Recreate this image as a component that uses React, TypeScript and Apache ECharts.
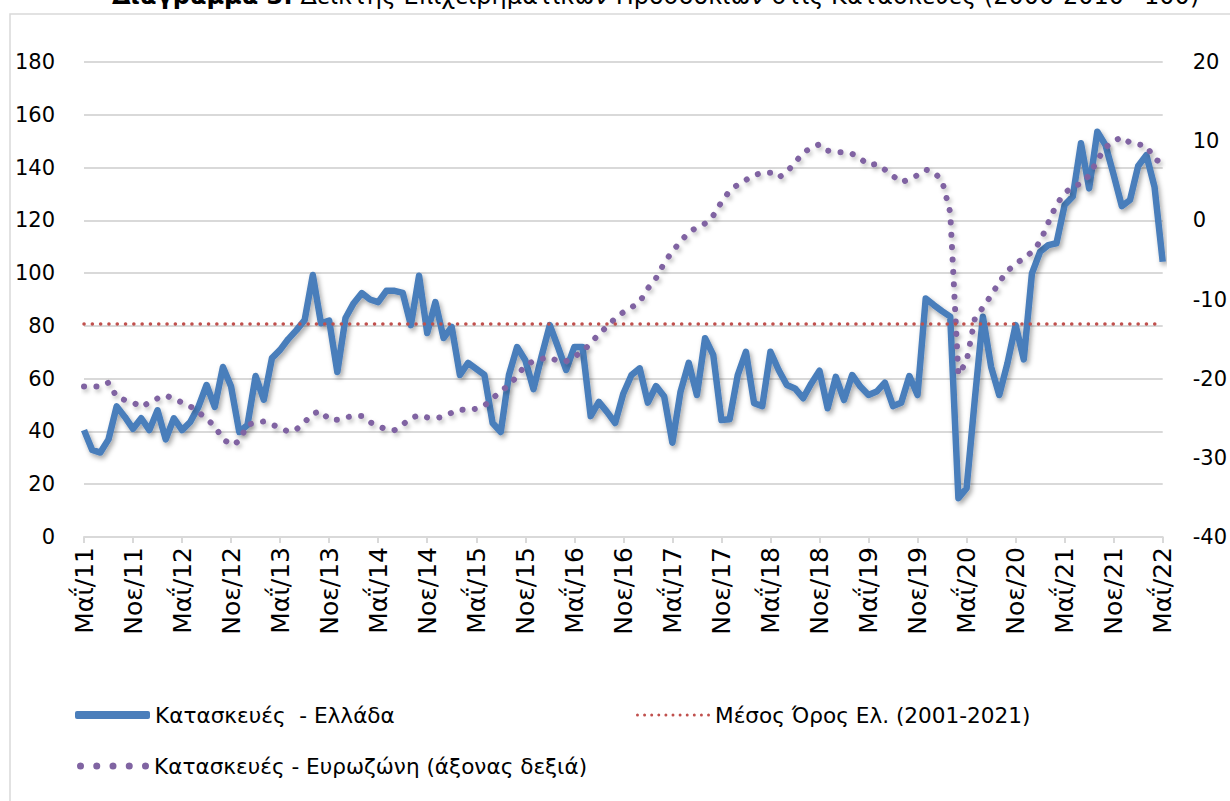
import React, { useEffect, useRef } from 'react';
import * as echarts from 'echarts';

// ---------- data ----------
const MONTHS = ['Ιαν', 'Φεβ', 'Μαρ', 'Απρ', 'Μαΐ', 'Ιουν', 'Ιουλ', 'Αυγ', 'Σεπ', 'Οκτ', 'Νοε', 'Δεκ'];
const START_YEAR = 11; // 2011
const START_MONTH = 4; // May
const N_MONTHS = 133; // May 2011 .. May 2022

const categories: string[] = [];
for (let i = 0; i < N_MONTHS; i++) {
  const m = (START_MONTH + i) % 12;
  const y = START_YEAR + Math.floor((START_MONTH + i) / 12);
  categories.push(`${MONTHS[m]}/${y}`);
}

// Κατασκευές - Ελλάδα (left axis)
const greece = [
  40.5, 33, 32, 37, 49.5, 45.5, 41, 45, 40.5, 48,
  37, 45, 40.5, 43.6, 49.3, 57.6, 49.3, 64.4, 57, 39.8,
  42.4, 61, 52, 67.8, 70.9, 75, 78.4, 82.2, 99.3, 81,
  82, 62.5, 83, 88.6, 92.4, 90, 89, 93.3, 93.3, 92.5,
  80.3, 99, 77.3, 89, 75.4, 79.6, 61.4, 66, 63.7, 61.4,
  43.2, 39.8, 61.4, 72, 67, 56, 68.6, 80.3, 72, 63.3,
  72, 72, 45.8, 51.2, 47.4, 43.2, 54.4, 61.4, 63.9, 50.9,
  57.2, 53.2, 35.7, 55.1, 66, 53.8, 75.3, 69, 44.3, 44.6,
  61.4, 70.2, 50.7, 49.6, 70.2, 63.3, 57.6, 56.3, 52.6, 58.2,
  63, 48.8, 60.7, 51.9, 61.4, 57, 53.8, 55.1, 58.5, 49.6,
  50.9, 61, 53.8, 90.4, 87.9, 85.6, 83.5, 14.7, 18.5, 51.9,
  83.5, 64.5, 53.8, 65.8, 80.3, 67.3, 99.9, 108.1, 110.6, 111.3,
  125.8, 129, 149.2, 132.1, 153.6, 148.5, 137.2, 125.4, 127.7, 140.6,
  144.7, 132.7, 104.3,
];

// Κατασκευές - Ευρωζώνη (right axis)
const eurozone = [
  -21.0, -21.0, -21.0, -20.5, -22.3, -22.7, -23.0, -23.6, -23.0, -22.5,
  -22.1, -22.6, -23.0, -23.5, -24.2, -25.1, -26.0, -27.6, -28.4, -27.9,
  -25.8, -25.6, -25.4, -25.8, -26.2, -26.7, -26.4, -25.5, -24.4, -24.1,
  -25.2, -25.2, -24.9, -24.7, -24.7, -25.5, -26.0, -26.4, -26.5, -25.8,
  -25.0, -24.6, -24.9, -25.0, -24.8, -24.3, -23.9, -24.0, -23.8, -23.4,
  -22.5, -21.6, -20.8, -19.7, -18.3, -17.8, -17.5, -17.3, -17.8, -17.8,
  -17.2, -16.6, -15.5, -14.4, -13.4, -12.4, -11.6, -11.0, -10.3, -8.6,
  -7.3, -5.4, -3.9, -2.7, -1.5, -0.9, -0.4, 0.6, 2.3, 3.7,
  4.5, 5.1, 5.7, 6.0, 6.0, 5.4, 6.1, 7.3, 8.5, 9.2,
  9.6, 8.8, 8.6, 8.6, 8.4, 7.8, 7.0, 7.1, 6.4, 5.6,
  4.8, 5.2, 5.7, 6.4, 6.1, 5.0, 1.0, -19.5, -17.8, -12.5,
  -11.0, -9.5, -7.8, -6.4, -5.5, -4.8, -4.0, -2.7, -0.3, 2.0,
  3.4, 4.3, 4.6, 5.7, 7.6, 9.2, 10.0, 10.5, 9.8, 9.6,
  9.4, 7.8, 7.1,
];

// Μέσος Όρος Ελ. (2001-2021)
const AVG_GREECE = 80.9;

const LEFT_AXIS = { min: 0, max: 180, interval: 20 };
const RIGHT_AXIS = { min: -40, max: 20, interval: 10 };

const TITLE_BOLD = 'Διάγραμμα 3:';
const TITLE_REST = ' Δείκτης Επιχειρηματικών Προσδοκιών στις Κατασκευές (2000-2010=100)';
const NAME_GR = 'Κατασκευές  - Ελλάδα';
const NAME_AVG = 'Μέσος Όρος Ελ. (2001-2021)';
const NAME_EZ = 'Κατασκευές - Ευρωζώνη (άξονας δεξιά)';

// ---------- styles ----------
const FONT = '"DejaVu Sans", sans-serif';
const BLUE = '#4A7EBB';
const RED = '#C0504D';
const PURPLE = '#8064A2';
const GRID = '#d9d9d9';

function dotsPath(count: number, r: number, step: number): string {
  let d = '';
  for (let k = 0; k < count; k++) {
    const cx = r + k * step;
    d += `M${cx - r},${r}a${r},${r} 0 1,0 ${2 * r},0a${r},${r} 0 1,0 ${-2 * r},0Z`;
  }
  return 'path://' + d;
}

export default function App() {
  const ref = useRef<HTMLDivElement>(null);
  useEffect(() => {
    document.body.style.margin = '0';
    const chart = echarts.init(ref.current!, null, { renderer: 'svg' });
    const every6 = (i: number) => i % 6 === 0;
    const legendBase = {
      orient: 'horizontal',
      padding: 0,
      itemGap: 0,
      selectedMode: false,
      symbolKeepAspect: false,
      itemStyle: { borderWidth: 0 },
      textStyle: { fontSize: 21.6, color: '#000', fontFamily: FONT },
    };
    chart.setOption({
      animation: false,
      backgroundColor: '#ffffff',
      textStyle: { fontFamily: FONT },
      grid: { left: 84, right: 61, top: 62, bottom: 264 },
      xAxis: {
        type: 'category',
        data: categories,
        boundaryGap: false,
        axisLine: { lineStyle: { color: GRID, width: 2 } },
        axisTick: { interval: every6, length: 6, lineStyle: { color: GRID, width: 2 } },
        axisLabel: { interval: every6, rotate: 90, margin: 10, fontSize: 25, color: '#000', fontFamily: FONT },
        splitLine: { show: false },
      },
      yAxis: [
        {
          type: 'value',
          ...LEFT_AXIS,
          axisLine: { show: false },
          axisTick: { show: false },
          axisLabel: { margin: 29, fontSize: 21, color: '#000', fontFamily: FONT },
          splitLine: { lineStyle: { color: GRID, width: 2 } },
        },
        {
          type: 'value',
          position: 'right',
          ...RIGHT_AXIS,
          axisLine: { show: false },
          axisTick: { show: false },
          axisLabel: { margin: 30, fontSize: 21, color: '#000', fontFamily: FONT },
          splitLine: { show: false },
        },
      ],
      legend: [
        { ...legendBase, left: 75, top: 704, itemWidth: 75, itemHeight: 8, data: [{ name: NAME_GR, icon: 'roundRect' }] },
        { ...legendBase, left: 636, top: 704, itemWidth: 74, itemHeight: 3, data: [{ name: NAME_AVG, icon: dotsPath(11, 1.5, 7.2) }] },
        { ...legendBase, left: 77, top: 755, itemWidth: 72, itemHeight: 7, data: [{ name: NAME_EZ, icon: dotsPath(5, 3.5, 16.25) }] },
      ],
      graphic: [
        {
          type: 'rect',
          silent: true,
          shape: { x: 10, y: 14, width: 1240, height: 800 },
          style: { fill: 'none', stroke: GRID, lineWidth: 1.5 },
        },
        {
          type: 'text',
          silent: true,
          x: 112,
          y: 8,
          style: {
            text: `{b|${TITLE_BOLD}}${TITLE_REST}`,
            fill: '#000',
            font: `24px ${FONT}`,
            textVerticalAlign: 'bottom',
            rich: { b: { fontWeight: 'bold', fontSize: 24, fontFamily: FONT, fill: '#000' } },
          },
        },
      ],
      series: [
        {
          name: NAME_GR,
          type: 'line',
          yAxisIndex: 0,
          data: greece,
          symbol: 'none',
          z: 2,
          itemStyle: { color: BLUE },
          lineStyle: {
            color: BLUE, width: 6.5, join: 'round',
            shadowColor: 'rgba(0,0,0,0.35)', shadowBlur: 5, shadowOffsetX: 2, shadowOffsetY: 3,
          },
        },
        {
          name: NAME_AVG,
          type: 'line',
          yAxisIndex: 0,
          data: [],
          symbol: 'none',
          z: 3,
          itemStyle: { color: RED },
          markLine: {
            silent: true,
            symbol: ['none', 'none'],
            label: { show: false },
            emphasis: { disabled: true },
            lineStyle: { color: RED, width: 3.5, type: [0.1, 8.2], cap: 'round' },
            data: [{ yAxis: AVG_GREECE }],
          },
        },
        {
          name: NAME_EZ,
          type: 'line',
          yAxisIndex: 1,
          data: eurozone,
          symbol: 'none',
          z: 4,
          itemStyle: { color: PURPLE },
          lineStyle: {
            color: PURPLE, width: 6, type: [0.1, 12.3], cap: 'round',
            shadowColor: 'rgba(0,0,0,0.25)', shadowBlur: 4, shadowOffsetX: 2, shadowOffsetY: 3,
          },
        },
      ],
    });
    return () => chart.dispose();
  }, []);
  return <div ref={ref} style={{ width: 1230, height: 801 }} />;
}
